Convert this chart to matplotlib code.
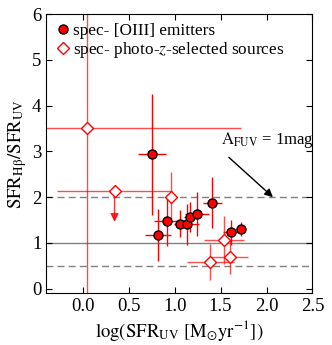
import numpy as np
import matplotlib
matplotlib.use("Agg")
import matplotlib.pyplot as plt

plt.rcParams['font.family'] = ['Liberation Serif', 'DejaVu Serif']
plt.rcParams['mathtext.fontset'] = 'stix'

# spec- [OIII] emitters
oiii_x = [0.75, 0.82, 0.92, 1.06, 1.13, 1.17, 1.24, 1.41, 1.61, 1.72]
oiii_y = [2.94, 1.18, 1.48, 1.42, 1.41, 1.57, 1.63, 1.88, 1.23, 1.31]
oiii_xerr = [0.15, 0.14, 0.15, 0.07, 0.13, 0.07, 0.13, 0.1, 0.08, 0.05]
oiii_yerr = [1.32, 0.57, 0.55, 0.3, 0.45, 0.33, 0.48, 0.55, 0.28, 0.15]

# spec- photo-z-selected sources
phz_x = [0.04, 0.96, 1.39, 1.54, 1.60]
phz_y = [3.51, 2.00, 0.58, 1.06, 0.69]
phz_xerr = [1.68, 0.06, 0.26, 0.22, 0.20]
phz_yerr = [6.5, 0.55, 0.40, 0.53, 0.38]

# upper limit point
lim_x, lim_y, lim_xerr, lim_yerr = 0.345, 2.14, 0.63, 0.68

fig = plt.figure(figsize=(3.32, 3.45), dpi=100)
ax = fig.add_axes([0.139, 0.150, 0.802, 0.809])

ax.axhline(1.0, color='grey', lw=1.0, zorder=1)
ax.axhline(2.0, color='grey', lw=1.0, ls=(0, (5, 3)), zorder=1)
ax.axhline(0.5, color='grey', lw=1.0, ls=(0, (5, 3)), zorder=1)

ax.errorbar(phz_x, phz_y, xerr=phz_xerr, yerr=phz_yerr, fmt='none',
            ecolor='red', alpha=0.7, elinewidth=1.0, zorder=2)
ax.errorbar([lim_x], [lim_y], xerr=[lim_xerr], fmt='none',
            ecolor='red', alpha=0.7, elinewidth=1.0, zorder=2)
ax.annotate('', xy=(lim_x, lim_y - lim_yerr), xytext=(lim_x, lim_y),
            arrowprops=dict(arrowstyle='-|>', color='red', lw=1.0, alpha=0.8,
                            mutation_scale=12, shrinkA=0, shrinkB=0), zorder=2)
ax.errorbar(oiii_x, oiii_y, xerr=oiii_xerr, yerr=oiii_yerr, fmt='none',
            ecolor='red', elinewidth=1.0, zorder=3)

ax.plot(phz_x + [lim_x], phz_y + [lim_y], 'D', ms=6.5, mfc='white', mec='red',
        mew=1.0, ls='none', zorder=4, label=r'spec- photo-$z$-selected sources')
ax.plot(oiii_x, oiii_y, 'o', ms=6.5, mfc='red', mec='black', mew=1.0,
        ls='none', zorder=5, label='spec- [OIII] emitters')

ax.text(1.5, 3.17, r'$\mathrm{A_{FUV}}$ = 1mag', fontsize=12)
ax.annotate('', xy=(2.07, 2.0), xytext=(1.59, 2.87),
            arrowprops=dict(arrowstyle='-|>', color='black', lw=1.0,
                            mutation_scale=12, shrinkA=0, shrinkB=0))

h, l = ax.get_legend_handles_labels()
ax.legend(h[::-1], l[::-1], loc='upper left', frameon=False, fontsize=12.4,
          handletextpad=0.15, borderaxespad=0.2, labelspacing=0.08,
          handlelength=0.9, borderpad=0.3)

ax.set_xlim(-0.4, 2.5)
ax.set_ylim(-0.1, 6)
ax.set_xticks([0.0, 0.5, 1.0, 1.5, 2.0, 2.5])
ax.set_xticklabels(['0.0', '0.5', '1.0', '1.5', '2.0', '2.5'])
ax.set_yticks([0, 1, 2, 3, 4, 5, 6])
ax.tick_params(direction='in', top=True, right=True, labelsize=13.5, length=4)
ax.set_xlabel(r'$\log(\mathrm{SFR_{UV}\ [M_{\odot}yr^{-1}]})$', fontsize=13.5, labelpad=2)
ax.set_ylabel(r'$\mathrm{SFR_{H\beta}/SFR_{UV}}$', fontsize=13.5, labelpad=2)

fig.savefig('out.png', dpi=100)
